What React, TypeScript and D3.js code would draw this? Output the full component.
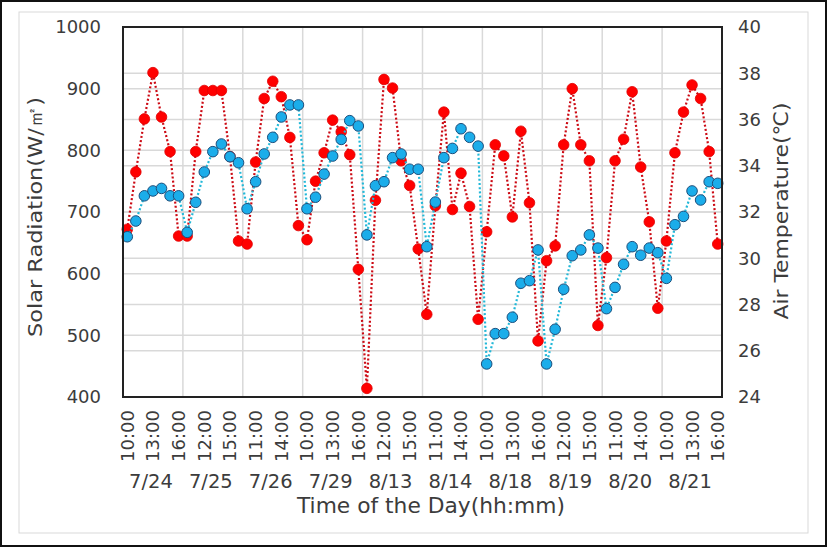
import React, { useEffect, useRef } from "react";
import * as d3 from "d3";

const dates = ["7/24", "7/25", "7/26", "7/29", "8/13", "8/14", "8/18", "8/19", "8/20", "8/21"];
const hours = ["10:00", "11:00", "12:00", "13:00", "14:00", "15:00", "16:00"];

// solar radiation (W/m2), 7 readings per day
const solar = [
  672, 765, 851, 926, 854, 798, 661,
  661, 798, 897, 897, 897, 790, 653,
  648, 781, 884, 912, 887, 821, 678,
  655, 750, 796, 849, 830, 793, 607,
  414, 719, 915, 901, 783, 743, 640,
  534, 710, 862, 704, 763, 709, 526,
  668, 809, 791, 692, 831, 715, 491,
  621, 645, 809, 900, 809, 783, 516,
  626, 783, 818, 895, 773, 684, 544,
  653, 796, 862, 906, 884, 798, 648,
];

// air temperature (C)
const temp = [
  30.93, 31.61, 32.7, 32.91, 33.02, 32.7, 32.7,
  31.12, 32.42, 33.73, 34.61, 34.94, 34.39, 34.13,
  32.14, 33.31, 34.51, 35.23, 36.11, 36.63, 36.63,
  32.14, 32.64, 33.64, 34.42, 35.14, 35.95, 35.72,
  31.01, 33.14, 33.31, 34.35, 34.51, 33.85, 33.85,
  30.5, 32.43, 34.35, 34.75, 35.6, 35.23, 34.85,
  25.43, 26.74, 26.74, 27.45, 28.92, 29.03, 30.36,
  25.43, 26.93, 28.66, 30.11, 30.36, 31.01, 30.44,
  27.82, 28.74, 29.74, 30.5, 30.13, 30.44, 30.24,
  29.13, 31.45, 31.81, 32.91, 32.52, 33.31, 33.24,
];

const leftTicks = [400, 500, 600, 700, 800, 900, 1000];
const rightTicks = [24, 26, 28, 30, 32, 34, 36, 38, 40];

const W = 827;
const H = 547;
const PLOT = { left: 123, right: 722, top: 27, bottom: 397 };
const FONT = "'DejaVu Sans', sans-serif";
const TXT = "#3c3c3c";

const App = () => {
  const ref = useRef(null);

  useEffect(() => {
    const svg = d3.select(ref.current);
    svg.selectAll("*").remove();

    const idx = d3.range(solar.length);
    const x = d3.scaleBand().domain(idx).range([PLOT.left, PLOT.right]);
    const cx = (i) => x(i) + x.bandwidth() / 2;
    const yL = d3.scaleLinear().domain([400, 1000]).range([PLOT.bottom, PLOT.top]);
    const yR = d3.scaleLinear().domain([24, 40]).range([PLOT.bottom, PLOT.top]);

    // frames
    svg.append("rect").attr("x", 1).attr("y", 1).attr("width", W - 2).attr("height", H - 2)
      .attr("fill", "#fff").attr("stroke", "#111").attr("stroke-width", 2);
    svg.append("rect").attr("x", 19).attr("y", 12).attr("width", 789).attr("height", 521)
      .attr("fill", "none").attr("stroke", "#d9d9d9").attr("stroke-width", 1);

    // grid (both axes get their own gridlines)
    const grid = svg.append("g").attr("stroke", "#d9d9d9").attr("stroke-width", 1.5);
    leftTicks.forEach((t) => {
      grid.append("line").attr("x1", PLOT.left).attr("x2", PLOT.right)
        .attr("y1", yL(t)).attr("y2", yL(t));
    });
    rightTicks.forEach((t) => {
      grid.append("line").attr("x1", PLOT.left).attr("x2", PLOT.right)
        .attr("y1", yR(t)).attr("y2", yR(t));
    });
    d3.range(1, dates.length).forEach((d) => {
      const gx = x(d * 7);
      grid.append("line").attr("x1", gx).attr("x2", gx)
        .attr("y1", PLOT.top).attr("y2", PLOT.bottom);
    });

    // lines
    const lineL = d3.line().x((d, i) => cx(i)).y((d) => yL(d));
    const lineR = d3.line().x((d, i) => cx(i)).y((d) => yR(d));

    svg.append("path").attr("d", lineL(solar)).attr("fill", "none")
      .attr("stroke", "#cc0a14").attr("stroke-width", 2.2)
      .attr("stroke-dasharray", "2 2.2");
    svg.selectAll("circle.solar").data(solar).enter().append("circle")
      .attr("class", "solar")
      .attr("cx", (d, i) => cx(i)).attr("cy", (d) => yL(d)).attr("r", 5.3)
      .attr("fill", "#ff0000").attr("stroke", "#e00000").attr("stroke-width", 0.8);

    svg.append("path").attr("d", lineR(temp)).attr("fill", "none")
      .attr("stroke", "#22b8d8").attr("stroke-width", 2.2)
      .attr("stroke-dasharray", "2 2.2");
    svg.selectAll("circle.temp").data(temp).enter().append("circle")
      .attr("class", "temp")
      .attr("cx", (d, i) => cx(i)).attr("cy", (d) => yR(d)).attr("r", 5.3)
      .attr("fill", "#1badea").attr("stroke", "#1d4f7c").attr("stroke-width", 1);

    // plot border
    svg.append("rect").attr("x", PLOT.left).attr("y", PLOT.top)
      .attr("width", PLOT.right - PLOT.left).attr("height", PLOT.bottom - PLOT.top)
      .attr("fill", "none").attr("stroke", "#222").attr("stroke-width", 2);

    // left ticks
    svg.append("g").selectAll("text").data(leftTicks).enter().append("text")
      .attr("x", 101).attr("y", (d) => yL(d)).attr("dy", "0.36em")
      .attr("text-anchor", "end").attr("font-family", FONT).attr("font-size", 18)
      .attr("fill", TXT).text((d) => d);

    // right ticks
    svg.append("g").selectAll("text").data(rightTicks).enter().append("text")
      .attr("x", 738).attr("y", (d) => yR(d)).attr("dy", "0.36em")
      .attr("text-anchor", "start").attr("font-family", FONT).attr("font-size", 18)
      .attr("fill", TXT).text((d) => d);

    // time labels, every third point
    const labelled = idx.filter((i) => i % 3 === 0);
    svg.append("g").selectAll("text").data(labelled).enter().append("text")
      .attr("transform", (i) => `translate(${cx(i)},410) rotate(-90)`)
      .attr("dy", "0.36em").attr("text-anchor", "end")
      .attr("font-family", FONT).attr("font-size", 18).attr("fill", TXT)
      .text((i) => hours[i % 7]);

    // date labels
    svg.append("g").selectAll("text").data(dates).enter().append("text")
      .attr("x", (d, k) => x(k * 7) + (x.bandwidth() * 7) / 2 - 2).attr("y", 488)
      .attr("text-anchor", "middle").attr("font-family", FONT).attr("font-size", 19.5)
      .attr("fill", TXT).text((d) => d);

    // titles
    svg.append("text").attr("x", 431).attr("y", 513)
      .attr("text-anchor", "middle").attr("font-family", FONT).attr("font-size", 21)
      .attr("textLength", 268).attr("lengthAdjust", "spacingAndGlyphs")
      .attr("fill", TXT).text("Time of the Day(hh:mm)");
    svg.append("text").attr("transform", "translate(35,217) rotate(-90)")
      .attr("dy", "0.36em").attr("text-anchor", "middle").attr("font-family", FONT)
      .attr("font-size", 20).attr("textLength", 240).attr("lengthAdjust", "spacingAndGlyphs")
      .attr("fill", TXT).text("Solar Radiation(W/㎡)");
    svg.append("text").attr("transform", "translate(781,211) rotate(-90)")
      .attr("dy", "0.36em").attr("text-anchor", "middle").attr("font-family", FONT)
      .attr("font-size", 20).attr("textLength", 217).attr("lengthAdjust", "spacingAndGlyphs")
      .attr("fill", TXT).text("Air Temperature(℃)");
  }, []);

  return (
    <svg
      ref={ref}
      width={W}
      height={H}
      style={{ position: "absolute", left: 0, top: 0, display: "block" }}
    />
  );
};

export default App;
